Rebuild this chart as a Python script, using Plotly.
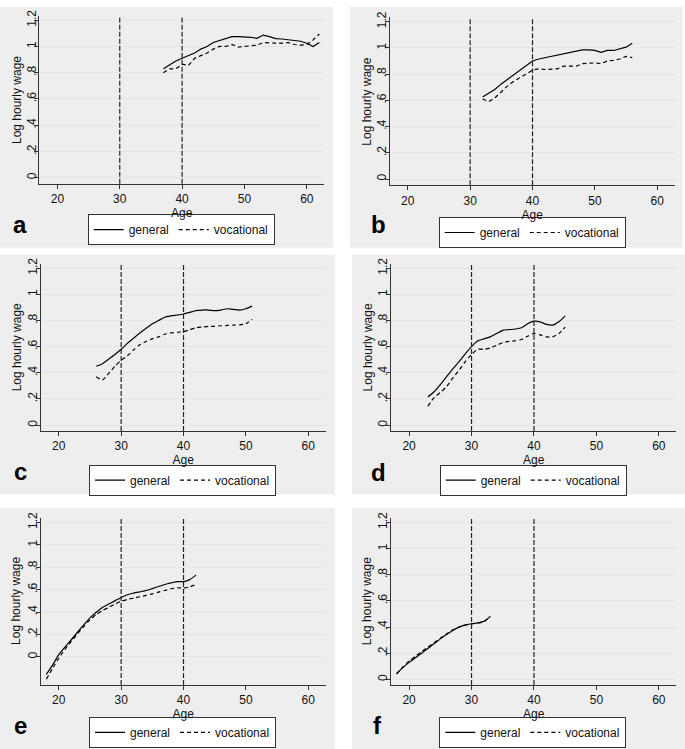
import plotly.graph_objects as go

# ---------------- data ----------------
panel_letters = ["a", "b", "c", "d", "e", "f"]
ref_ages = [30, 40]
x_ticks = [20, 30, 40, 50, 60]
y_ticks = [0, 0.2, 0.4, 0.6, 0.8, 1.0, 1.2]
y_tick_labels = ["0", ".2", ".4", ".6", ".8", "1", "1.2"]

ages_a = list(range(37, 63))
general_a = [0.83, 0.86, 0.89, 0.91, 0.93, 0.95, 0.98, 1.00, 1.03, 1.045, 1.057, 1.075, 1.075,
             1.075, 1.07, 1.062, 1.087, 1.075, 1.06, 1.057, 1.05, 1.045, 1.04, 1.025, 1.00, 1.03]
vocational_a = [0.80, 0.83, 0.83, 0.865, 0.855, 0.91, 0.93, 0.95, 0.98, 1.00, 1.00, 1.015, 0.995,
                1.00, 1.005, 1.01, 1.03, 1.025, 1.025, 1.025, 1.03, 1.015, 1.01, 1.015, 1.05, 1.095]

ages_b = list(range(32, 57))
general_b = [0.625, 0.655, 0.685, 0.725, 0.76, 0.795, 0.825, 0.86, 0.90, 0.915, 0.925, 0.935, 0.945,
             0.955, 0.96, 0.975, 0.985, 0.985, 0.98, 0.965, 0.98, 0.98, 0.99, 1.005, 1.035]
vocational_b = [0.61, 0.59, 0.62, 0.665, 0.71, 0.745, 0.77, 0.80, 0.83, 0.84, 0.835, 0.835, 0.84,
                0.86, 0.86, 0.86, 0.88, 0.885, 0.885, 0.88, 0.90, 0.905, 0.915, 0.935, 0.925]

ages_c = list(range(26, 52))
general_c = [0.45, 0.47, 0.505, 0.54, 0.58, 0.625, 0.665, 0.705, 0.74, 0.775, 0.80, 0.825, 0.835,
             0.842, 0.85, 0.862, 0.875, 0.88, 0.88, 0.875, 0.88, 0.89, 0.885, 0.88, 0.89, 0.91]
vocational_c = [0.37, 0.345, 0.395, 0.45, 0.495, 0.53, 0.575, 0.615, 0.64, 0.66, 0.675, 0.695, 0.705,
                0.71, 0.715, 0.73, 0.745, 0.75, 0.755, 0.755, 0.76, 0.762, 0.765, 0.767, 0.775, 0.81]

ages_d = list(range(23, 46))
general_d = [0.215, 0.255, 0.31, 0.37, 0.43, 0.485, 0.545, 0.60, 0.645, 0.66, 0.675, 0.70, 0.725,
             0.73, 0.735, 0.745, 0.775, 0.795, 0.79, 0.77, 0.765, 0.79, 0.835]
vocational_d = [0.145, 0.21, 0.25, 0.295, 0.36, 0.42, 0.485, 0.54, 0.58, 0.58, 0.59, 0.61, 0.63,
                0.64, 0.645, 0.655, 0.68, 0.70, 0.69, 0.675, 0.675, 0.70, 0.75]

ages_e = list(range(18, 43))
general_e = [-0.156, -0.074, 0.02, 0.088, 0.153, 0.22, 0.286, 0.348, 0.398, 0.442, 0.472, 0.50, 0.53,
             0.555, 0.569, 0.581, 0.593, 0.61, 0.628, 0.646, 0.66, 0.672, 0.672, 0.69, 0.73]
vocational_e = [-0.20, -0.103, -0.012, 0.068, 0.139, 0.206, 0.271, 0.33, 0.378, 0.413, 0.442, 0.472,
                0.496, 0.513, 0.525, 0.537, 0.549, 0.563, 0.578, 0.593, 0.608, 0.617, 0.614, 0.625, 0.646]

ages_f = list(range(18, 34))
general_f = [0.045, 0.09, 0.13, 0.165, 0.20, 0.237, 0.272, 0.31, 0.343, 0.374, 0.40, 0.417, 0.425,
             0.432, 0.444, 0.482]
vocational_f = [0.04, 0.095, 0.14, 0.177, 0.212, 0.247, 0.28, 0.315, 0.348, 0.379, 0.40, 0.414, 0.425,
                0.43, 0.44, 0.48]

ages_all = [ages_a, ages_b, ages_c, ages_d, ages_e, ages_f]
general_all = [general_a, general_b, general_c, general_d, general_e, general_f]
vocational_all = [vocational_a, vocational_b, vocational_c, vocational_d, vocational_e, vocational_f]

x_title = "Age"
y_title = "Log hourly wage"

# ---------------- layout geometry (pixels) ----------------
W, H = 685, 749
FONT = "Arial, Liberation Sans, Helvetica, sans-serif"

# gray panel boxes: x0, y0, x1, y1 (top-left origin)
panel_boxes = [(0, 0, 333, 243), (350, 0, 683, 243),
               (0, 250, 335, 492), (352, 250, 685, 492),
               (0, 506, 335, 749), (352, 506, 685, 749)]
# plot areas: x0, y0, x1, y1
plot_boxes = [(39.3, 9.5, 324.3, 178.3), (389.7, 10.5, 674.7, 180),
              (40.7, 259.7, 325.7, 428), (391, 259.7, 676.3, 428),
              (40.7, 515.8, 325.7, 684.3), (391, 515.8, 676.3, 684.3)]
y_ranges = [(-0.045, 1.229), (-0.048, 1.232), (-0.045, 1.23), (-0.045, 1.23),
            (-0.25, 1.24), (-0.042, 1.234)]
legend_pos = [(87.7, 209), (438.7, 212), (89, 462), (439.7, 462), (89, 716.5), (439.3, 716.5)]
letter_pos = [(20.3, 219.4), (378.7, 219.7), (20, 469.2), (378.5, 469.7), (20, 725.6), (377, 725.7)]
ytitle_x = [17, 367.3, 16.7, 367.8, 16.5, 367.8]
smooth = [False, False, True, True, True, True]

def fx(px):
    return px / W

def fy(py):
    return 1 - py / H

fig = go.Figure()
layout = dict(
    width=W, height=H,
    margin=dict(l=0, r=0, t=0, b=0),
    paper_bgcolor="white", plot_bgcolor="white",
    font=dict(family=FONT, size=12, color="#111"),
    showlegend=True,
)

shapes = []
annotations = []

for i in range(6):
    n = "" if i == 0 else str(i + 1)
    xa, ya, lg = "x" + n, "y" + n, "legend" + n
    shape_kw = dict(shape="spline", smoothing=0.6) if smooth[i] else dict(shape="linear")
    fig.add_trace(go.Scatter(
        x=ages_all[i], y=general_all[i], mode="lines", name="general",
        line=dict(color="black", width=1.2, **shape_kw),
        xaxis=xa, yaxis=ya, legend=lg))
    fig.add_trace(go.Scatter(
        x=ages_all[i], y=vocational_all[i], mode="lines", name="vocational",
        line=dict(color="black", width=1.2, dash="4px,3px", **shape_kw),
        xaxis=xa, yaxis=ya, legend=lg))

    bx0, by0, bx1, by1 = panel_boxes[i]
    shapes.append(dict(type="rect", xref="paper", yref="paper",
                       x0=fx(bx0), x1=fx(bx1), y0=fy(by1), y1=fy(by0),
                       fillcolor="#eeeeee", line=dict(width=0), layer="below"))
    for a in ref_ages:
        shapes.append(dict(type="line", xref=xa, yref=ya + " domain",
                           x0=a, x1=a, y0=0, y1=1,
                           line=dict(color="#222", width=1.2, dash="5px,2px")))

    px0, py0, px1, py1 = plot_boxes[i]
    layout["xaxis" + n] = dict(
        domain=[fx(px0), fx(px1)], range=[17.1, 62.8], anchor=ya,
        tickvals=x_ticks, ticks="outside", ticklen=4, tickcolor="#333",
        showline=True, linecolor="#333", linewidth=1,
        showgrid=False, zeroline=False,
        tickfont=dict(size=12, color="#111"),
        title=dict(text=x_title, standoff=1, font=dict(size=12, color="#111")),
    )
    layout["yaxis" + n] = dict(
        domain=[fy(py1), fy(py0)], range=list(y_ranges[i]), anchor=xa,
        tickvals=y_ticks, ticktext=y_tick_labels, tickangle=-90,
        ticks="outside", ticklen=4, tickcolor="#333", ticklabelstandoff=-6,
        showline=True, linecolor="#333", linewidth=1,
        showgrid=True, gridcolor="#e6e6e6", gridwidth=1, zeroline=False,
        tickfont=dict(size=12, color="#111"),
    )
    # y-axis title placed as rotated text beside the axis
    annotations.append(dict(text=y_title, xref="paper", yref="paper",
                            x=fx(ytitle_x[i]), y=fy((py0 + py1) / 2),
                            xanchor="center", yanchor="middle", textangle=-90,
                            showarrow=False, font=dict(size=12, color="#111", family=FONT)))
    lx, ly = legend_pos[i]
    layout[lg] = dict(
        orientation="h", x=fx(lx), y=fy(ly), xanchor="left", yanchor="top",
        bgcolor="white", bordercolor="#333", borderwidth=1,
        font=dict(size=12, color="#111"), itemwidth=30,
        tracegroupgap=0,
    )
    tx, ty = letter_pos[i]
    annotations.append(dict(text="<b>%s</b>" % panel_letters[i], xref="paper", yref="paper",
                            x=fx(tx), y=fy(ty), xanchor="center", yanchor="middle",
                            showarrow=False, font=dict(size=24, color="black", family=FONT)))

layout["shapes"] = shapes
layout["annotations"] = annotations
fig.update_layout(**layout)
fig.write_html("out.html", config={"displayModeBar": False},
               post_script="document.body.style.margin='0';")
